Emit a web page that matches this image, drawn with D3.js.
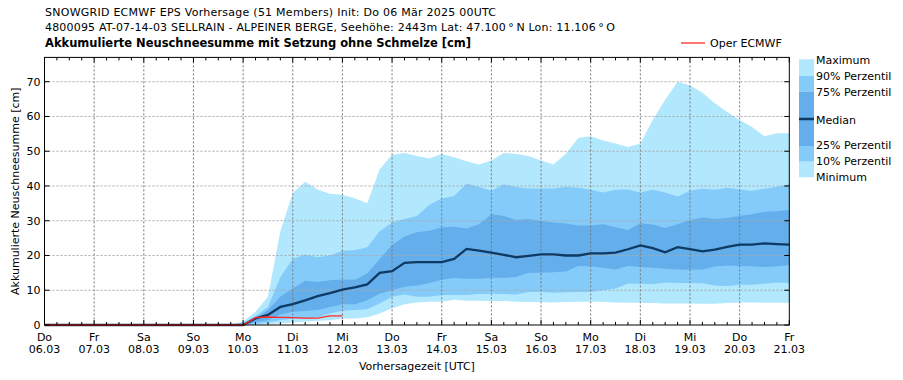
<!DOCTYPE html>
<html><head><meta charset="utf-8">
<script src="https://cdn.jsdelivr.net/npm/d3@7"></script>
<style>
body{margin:0;background:#fff;}
text{font-family:"DejaVu Sans",sans-serif;}
</style></head>
<body><svg id="c" width="903" height="380"></svg>
<script>
// 6-hourly steps from 06.03 00UTC to 21.03 00UTC (61 points)
const days = ["Do","Fr","Sa","So","Mo","Di","Mi","Do","Fr","Sa","So","Mo","Di","Mi","Do","Fr"];
const dates = ["06.03","07.03","08.03","09.03","10.03","11.03","12.03","13.03","14.03","15.03","16.03","17.03","18.03","19.03","20.03","21.03"];
const yTicks = [0,10,20,30,40,50,60,70];
const zeros16 = [0,0,0,0,0,0,0,0,0,0,0,0,0,0,0,0];
const maxV = zeros16.concat([1.0,3.8,8.1,27,38,41.2,39,37.8,37.5,36.5,35,44.8,49,49.5,48.6,47.9,49.2,48.3,47.1,46.2,47.3,49.5,49.2,48.6,47.3,46.2,49.3,53.8,54.3,53.1,52.2,51.2,52.2,59,64.8,70,69,66.8,63.8,61.3,59,57,54.3,55.2,55.2]);
const p90 = zeros16.concat([0.6,2.6,5.2,13.8,19,20.3,19.5,20,21.4,21.6,22.4,27,29.5,30.5,31.4,34.6,36.4,37.1,40.7,39.7,38.6,40.5,39.7,39.3,39.3,39.3,39.8,39.5,38.9,38.1,38.9,39,38.1,38.9,38.1,37,38.6,39.2,38.9,39.5,39,38.6,39.2,39.8,40.5]);
const p75 = zeros16.concat([0.3,1.9,4.3,8.1,10.5,12.7,12.4,12.9,13.1,13,14.8,19,23,25.5,26.7,27.1,28.1,28.3,27.8,29,31.9,31.4,30.2,30.5,30,29.5,29.2,28.6,28.6,29,28.1,27.3,29.3,28.9,27.9,29,30.2,30.9,30.5,30.8,31.4,31.9,32.6,32.7,33.1]);
const median = zeros16.concat([0,1.9,2.9,5.2,6.0,7.1,8.3,9.2,10.2,10.8,11.7,15,15.5,17.9,18.1,18.1,18.1,19,21.9,21.4,20.8,20.2,19.5,19.9,20.3,20.3,20.0,20.0,20.6,20.6,20.8,21.8,22.9,22.1,20.9,22.4,21.8,21.2,21.7,22.5,23.1,23.1,23.5,23.3,23.1]);
const p25 = zeros16.concat([0,0.8,1.4,3.0,3.8,4.0,4.3,5.2,6.0,6.0,7.1,9.0,10,11,11.4,12.1,13,13.5,13.3,13.3,13.6,13.6,13.8,15,15,15.2,15.4,17,16.9,16.5,16,17,16.7,16.5,16.2,16,15.9,16,16.8,17.1,17,16.9,16.7,16.9,17.3]);
const p10 = zeros16.concat([0,0.3,0.7,1.4,1.9,1.9,2.2,3.3,4.1,4.3,4.5,6.2,8.1,8.8,8.1,8.1,8.6,8.6,8.6,8.9,9.0,8.9,8.8,9.5,9.5,9.3,9.4,9.5,9.5,10,10.5,11.9,11.9,11.7,12.2,12.1,12.1,12,11.4,11.2,11.6,11.6,11.9,12.2,12.1]);
const minV = zeros16.concat([0,0,0.2,0.5,0.7,1.0,1.2,1.4,1.9,1.9,2.2,3.3,4.8,6.0,6.5,6.7,6.7,7.3,7.0,7.0,6.9,6.9,6.7,6.6,6.6,6.5,6.6,6.7,6.7,6.7,6.5,6.4,6.4,6.3,6.2,6.2,6.2,6.1,6.1,6.3,6.5,6.5,6.4,6.4,6.4]);
const oper = zeros16.concat([0,2.1,2.3,2.2,2.1,2.0,2.0,2.6,2.6]);

const cLight="#b2e8fd", cMid="#84cbfa", cDark="#63aeeb", cMed="#0e3a63", cRed="#ff2a2a";
const svg = d3.select("#c");
const L=44.5, R=789.3, T=57.4, B=325;
const x = d3.scaleLinear().domain([0,60]).range([L,R]);
const y = d3.scaleLinear().domain([0,77]).range([B,T]);
const idx = d3.range(61);

const band = (lo,hi)=>d3.area().x(i=>x(i)).y0(i=>y(lo[i])).y1(i=>y(hi[i]))(idx);
svg.append("path").attr("d",band(minV,maxV)).attr("fill",cLight);
svg.append("path").attr("d",band(p10,p90)).attr("fill",cMid);
svg.append("path").attr("d",band(p25,p75)).attr("fill",cDark);

// grid
const g = svg.append("g");
yTicks.slice(1).forEach(v=>g.append("line").attr("x1",L).attr("x2",R).attr("y1",y(v)).attr("y2",y(v))
  .attr("stroke","#aaa").attr("stroke-width",1).attr("stroke-dasharray","2,2"));
d3.range(1,15).forEach(d=>g.append("line").attr("x1",x(d*4)).attr("x2",x(d*4)).attr("y1",T).attr("y2",B)
  .attr("stroke","#777").attr("stroke-width",1).attr("stroke-dasharray","2,2"));

// lines
const ln = arr=>d3.line().x((d,i)=>x(i)).y(d=>y(d))(arr);
svg.append("path").attr("d",ln(median)).attr("fill","none").attr("stroke",cMed).attr("stroke-width",2.3);
svg.append("path").attr("d",ln(oper)).attr("fill","none").attr("stroke",cRed).attr("stroke-width",1.3);

// frame and ticks
svg.append("rect").attr("x",L).attr("y",T).attr("width",R-L).attr("height",B-T).attr("fill","none").attr("stroke","#000").attr("stroke-width",1);
const tk = svg.append("g").attr("stroke","#000").attr("stroke-width",1);
d3.range(0,61).forEach(i=>{
  const len = (i%4===0)?5:3;
  tk.append("line").attr("x1",x(i)).attr("x2",x(i)).attr("y1",B).attr("y2",B-len);
  tk.append("line").attr("x1",x(i)).attr("x2",x(i)).attr("y1",T).attr("y2",T+len);
});
yTicks.forEach(v=>{
  tk.append("line").attr("x1",L).attr("x2",L+5).attr("y1",y(v)).attr("y2",y(v));
  tk.append("line").attr("x1",R).attr("x2",R-5).attr("y1",y(v)).attr("y2",y(v));
});
// y tick labels
yTicks.forEach(v=>svg.append("text").attr("x",L-4).attr("y",y(v)+4).attr("text-anchor","end").attr("font-size",11).text(v));
// x tick labels
days.forEach((d,k)=>{
  svg.append("text").attr("x",x(k*4)).attr("y",340.5).attr("text-anchor","middle").attr("font-size",11).text(d);
  svg.append("text").attr("x",x(k*4)).attr("y",352.5).attr("text-anchor","middle").attr("font-size",11).text(dates[k]);
});
svg.append("text").attr("x",(L+R)/2).attr("y",369.5).attr("text-anchor","middle").attr("font-size",11).text("Vorhersagezeit [UTC]");
svg.append("text").attr("transform",`translate(19,${(T+B)/2}) rotate(-90)`).attr("text-anchor","middle").attr("font-size",11).text("Akkumulierte Neuschneesumme [cm]");

// titles
svg.append("text").attr("x",45).attr("y",16).attr("font-size",11).attr("textLength",451).attr("lengthAdjust","spacing")
  .text("SNOWGRID ECMWF EPS Vorhersage (51 Members) Init: Do 06 Mär 2025 00UTC");
svg.append("text").attr("x",45).attr("y",31).attr("font-size",11).attr("textLength",570).attr("lengthAdjust","spacing")
  .text("4800095 AT-07-14-03 SELLRAIN - ALPEINER BERGE, Seehöhe: 2443m Lat: 47.100\u2009°\u2009N Lon: 11.106\u2009°\u2009O");
svg.append("text").attr("x",45).attr("y",47).attr("font-size",11.5).attr("font-weight","bold").attr("textLength",426).attr("lengthAdjust","spacing")
  .text("Akkumulierte Neuschneesumme mit Setzung ohne Schmelze [cm]");

// oper legend
svg.append("line").attr("x1",681).attr("x2",705).attr("y1",43).attr("y2",43).attr("stroke",cRed).attr("stroke-width",1.3);
svg.append("text").attr("x",710).attr("y",47).attr("font-size",11).text("Oper ECMWF");

// ensemble legend
const lx=799, lw=15;
const segs=[[59.3,76,cLight],[76,91.7,cMid],[91.7,119,cDark],[119,146,cDark],[146,161.7,cMid],[161.7,177.3,cLight]];
segs.forEach(s=>svg.append("rect").attr("x",lx).attr("y",s[0]).attr("width",lw).attr("height",s[1]-s[0]).attr("fill",s[2]));
svg.append("line").attr("x1",lx).attr("x2",lx+lw).attr("y1",119).attr("y2",119).attr("stroke",cMed).attr("stroke-width",2.5);
const labs=[["Maximum",60],["90% Perzentil",76],["75% Perzentil",92],["Median",120],["25% Perzentil",145],["10% Perzentil",161],["Minimum",177]];
labs.forEach(l=>svg.append("text").attr("x",816).attr("y",l[1]+4).attr("font-size",11).text(l[0]));
</script></body></html>
